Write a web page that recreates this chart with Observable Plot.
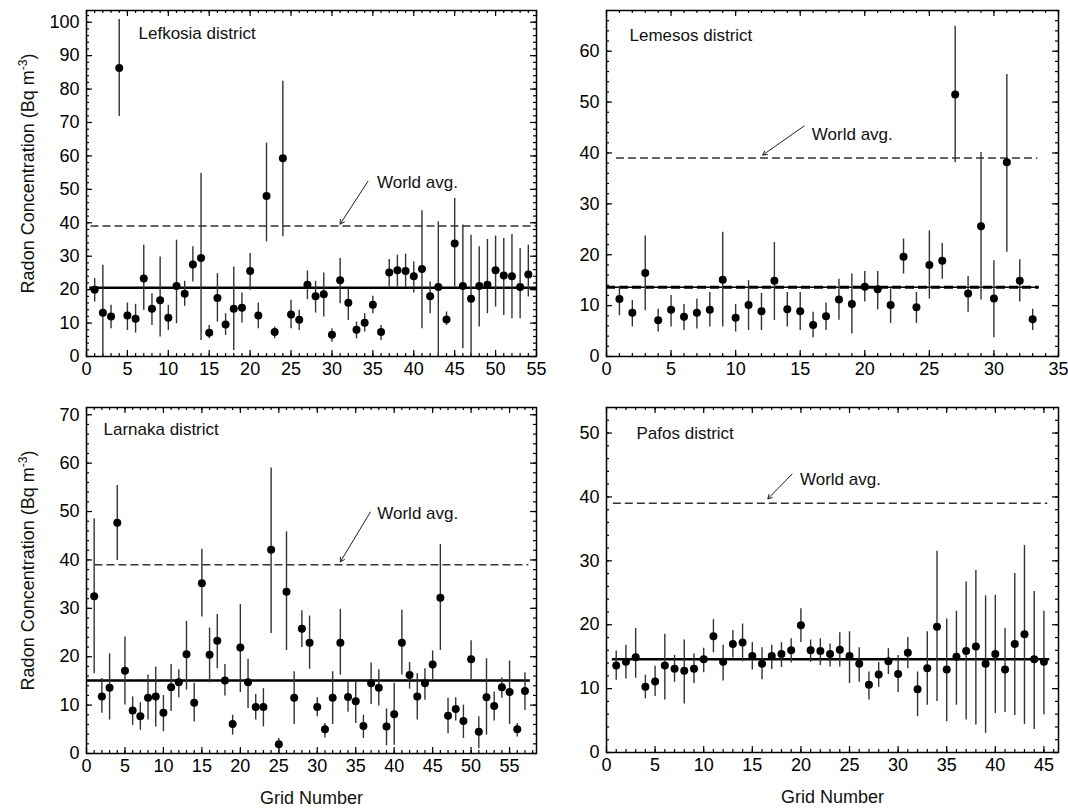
<!DOCTYPE html>
<html><head><meta charset="utf-8">
<script src="https://cdn.jsdelivr.net/npm/d3@7"></script>
<script src="https://cdn.jsdelivr.net/npm/@observablehq/plot@0.6"></script>
<style>
body{margin:0;background:#fff;}
#fig{position:relative;width:1068px;height:809px;font-family:"Liberation Sans",Arial,sans-serif;overflow:hidden;}
#fig svg{position:absolute;overflow:visible;}
</style></head><body><div id="fig"></div>
<script>
// ---------------- data ----------------
const districtNames = ["Lefkosia district", "Lemesos district", "Larnaka district", "Pafos district"];
const worldAverage = 39;
const districtMeans = [20.6, 13.6, 15.1, 14.6];
const xMaxes = [55, 35, 58.5, 46.5];
const yMaxes = [103.5, 68, 71.5, 54];

const lefkosiaMean = [20,13.1,12,86.3,12.3,11.3,23.3,14.3,16.8,11.6,21.1,18.8,27.5,29.5,7.1,17.5,9.6,14.3,14.6,25.6,12.3,48,7.3,59.3,12.6,11,21.5,18,18.6,6.5,22.8,16.1,8,10.1,15.5,7.3,25.1,25.8,25.6,24,26.2,18,20.8,11.1,33.8,21.1,17.3,21.1,21.5,25.8,24.2,24,20.8,24.5];
const lefkosiaLow = [16.3,0,8.3,71.8,7.8,7,13.8,9.3,5.8,7.8,9.8,15,22.3,4.8,5.3,10.3,6.3,1.8,10,19.8,8.3,34.3,5.3,35.8,8.3,7.8,17,13,11.8,4.3,15.8,10.8,5.3,7.3,12.8,4.8,20.8,20.8,20.6,19,8.3,12.8,0,9.3,20.8,2.3,0,8.8,12.8,14.8,12.3,11.3,11.3,17.8];
const lefkosiaHigh = [23.3,27.3,15.3,100.8,16,15.6,33.3,18.8,29.8,15.3,34.8,22.5,32.8,54.8,9.3,24.8,12.8,26.8,19,30.8,16,63.8,8.8,82.3,16.8,13.8,25.6,22.5,25,8.3,29.3,20.3,10.3,12.8,18,9.3,29,30.3,30.6,28.3,43.6,22.3,40.3,13.3,47.3,39.3,36.3,32.8,35,36,35.3,36.5,32.3,33.3];

const lemesosMean = [11.3,8.6,16.4,7.1,9.2,7.8,8.6,9.2,15.1,7.6,10.1,8.9,14.9,9.3,8.9,6.2,7.9,11.2,10.3,13.7,13.2,10.1,19.6,9.7,18,18.8,51.5,12.4,25.6,11.4,38.2,14.9,7.3];
const lemesosLow = [8,5.8,9,4.8,5.8,5.1,5.4,5.8,5.8,4.8,5.1,5.1,7.1,5.8,5.1,3.7,5.1,7.1,4.4,10.7,9.2,6.5,16.2,6.5,11.3,15.2,38.1,8.7,11.1,3.7,20.5,10.7,5.1];
const lemesosHigh = [13.7,11,23.7,9.3,12,10.2,11.3,12.6,24.4,10.2,14.9,12.4,22.4,12.6,12.6,8.7,10.5,15.2,16.2,16.7,16.7,13.3,23.1,12.6,24.7,22.2,64.9,15.7,40.1,18.8,55.4,19,9.3];

const larnakaMean = [32.5,11.8,13.6,47.7,17.1,8.9,7.7,11.5,11.8,8.4,13.7,14.7,20.5,10.5,35.2,20.4,23.3,15.1,6.1,21.9,14.7,9.6,9.6,42.1,1.9,33.4,11.5,25.8,22.9,9.6,5,11.5,22.9,11.7,10.8,5.7,14.5,13.6,5.6,8.1,22.9,16.2,11.8,14.5,18.4,32.2,7.8,9.2,6.7,19.5,4.5,11.6,9.8,13.7,12.7,5,12.9];
const larnakaLow = [16.5,8.3,6.9,39.9,10,5.8,4.8,6.9,5.5,4.5,8.7,11.5,13.1,6.5,28.2,14.6,17.5,11.9,3.8,12.6,9.3,6.9,5.5,24.8,0.3,21.3,6,21.9,17.4,7.6,3.2,6,16.2,8.5,6.2,3.1,10.1,9.8,1.6,1.7,16.2,13.3,6.9,11,15.3,21.3,4.1,6.7,3.1,15.1,1,3.8,6.7,11.4,6,3.4,8.9];
const larnakaHigh = [48.5,15.5,20.6,55.4,24.1,11.7,10.5,16.2,17.9,12,18.4,17.3,27.3,14.5,42.2,25.9,28.7,18.4,7.9,30.8,19.5,12.2,13.4,59,3.1,45.8,16.9,29.5,28.4,11.5,6.2,16.9,29.8,14.9,14.9,7.9,18.7,17.3,9.2,14.5,29.6,18.8,16.5,17.5,21.2,43.2,11.4,11.5,10,23.3,7.6,19.6,12.7,15.6,19.1,6.2,16.7];

const pafosMean = [13.6,14.2,14.9,10.3,11.1,13.6,13.1,12.8,13.1,14.6,18.2,14.2,17,17.2,15.1,13.9,15.1,15.4,16,19.9,16,15.9,15.4,16.1,15.1,13.9,10.6,12.2,14.3,12.3,15.6,9.9,13.2,19.7,13,15,15.9,16.6,13.9,15.4,13,17,18.5,14.6,14.2];
const pafosLow = [11.3,11.5,11.6,8.4,8.75,8.2,11,7.6,10.8,12.5,15.6,11.2,14.8,14.2,12.9,11.4,13,13.3,14,17.2,14.1,13.6,13.4,13.4,10.8,11,8.2,10.2,12.2,9.4,13.1,5.6,7.4,8,4.8,7.4,5.1,4.3,3,6.1,6.25,5.8,4.4,3.6,5.9];
const pafosHigh = [15.9,16.8,19.4,12.1,13.5,18.5,15.2,17.6,15.4,16.3,20.8,16.8,19.1,20.1,17.2,16.4,16.8,17.2,17.8,22.5,17.6,17.8,17,18.75,18.9,16.4,12.6,14.1,16.25,15.2,18,12.6,18.9,31.5,20.9,22.1,26.7,28.5,24.5,24.6,19.4,28,32.4,25.2,22.1];

// reference-line extents (grid units)
const meanLineFrom = [0.4, 0, 0.1, 0.6];
const meanLineTo = [55, 33.5, 57.7, 45.6];
const worldLineFrom = [0.55, 0.77, 1.1, 0.7];
const worldLineTo = [55, 33.4, 57.5, 45.4];

// "World avg." annotation (data units)
const worldTextX = [35.5, 15.9, 37.8, 19.9];
const worldTextY = [52, 43.7, 49.6, 42.7];
const arrowTailX = [34.4, 15.3, 36.9, 19.1];
const arrowTailY = [52.4, 45.3, 49.9, 43.6];
const arrowHeadX = [31, 12.1, 33, 16.6];
const arrowHeadY = [39.6, 39.6, 39.6, 39.7];

const yTitle = "Radon Concentration (Bq m-3)";
const xTitle = "Grid Number";

// ---------------- layout ----------------
const boxes = [
  {left:0,   top:0,   width:546, height:400, ml:86, mr:10, mt:10, mb:44, ldx:52, ldy:23},
  {left:546, top:0,   width:522, height:400, ml:60, mr:10, mt:10, mb:44, ldx:23, ldy:25},
  {left:0,   top:400, width:546, height:409, ml:86, mr:10, mt:7,  mb:56, ldx:17, ldy:22},
  {left:546, top:400, width:522, height:409, ml:60, mr:10, mt:7,  mb:57, ldx:30, ldy:26}
];
const means = [lefkosiaMean, lemesosMean, larnakaMean, pafosMean];
const lows = [lefkosiaLow, lemesosLow, larnakaLow, pafosLow];
const highs = [lefkosiaHigh, lemesosHigh, larnakaHigh, pafosHigh];

const fig = document.getElementById("fig");
const FONT = '"Liberation Sans", Arial, sans-serif';

for (let k = 0; k < 4; k++) {
  const b = boxes[k];
  const iw = b.width - b.ml - b.mr, ih = b.height - b.mt - b.mb;
  const data = means[k].map((m, i) => ({g: i + 1, m, lo: lows[k][i], hi: highs[k][i]}));
  const xMax = xMaxes[k], yMax = yMaxes[k];
  const xMaj = d3.range(0, xMax + 1e-9, 5), xMin = d3.range(0, xMax + 1e-9, 1);
  const yMaj = d3.range(0, yMax + 1e-9, 10), yMin = d3.range(0, yMax + 1e-9, 2);
  const tk = "#000";
  const marks = [
    // inward ticks on all four sides
    Plot.ruleX(xMin, {x: d => d, insetTop: ih - 3, stroke: tk, strokeWidth: 1.2}),
    Plot.ruleX(xMaj, {x: d => d, insetTop: ih - 6, stroke: tk, strokeWidth: 1.2}),
    Plot.ruleX(xMin, {x: d => d, insetBottom: ih - 3, stroke: tk, strokeWidth: 1.2}),
    Plot.ruleX(xMaj, {x: d => d, insetBottom: ih - 6, stroke: tk, strokeWidth: 1.2}),
    Plot.ruleY(yMin, {y: d => d, insetRight: iw - 3, stroke: tk, strokeWidth: 1.2}),
    Plot.ruleY(yMaj, {y: d => d, insetRight: iw - 6, stroke: tk, strokeWidth: 1.2}),
    Plot.ruleY(yMin, {y: d => d, insetLeft: iw - 3, stroke: tk, strokeWidth: 1.2}),
    Plot.ruleY(yMaj, {y: d => d, insetLeft: iw - 6, stroke: tk, strokeWidth: 1.2}),
    Plot.axisX(xMaj, {anchor: "bottom", tickSize: 0, tickPadding: 6, label: null, fontSize: 18}),
    Plot.axisY(yMaj, {anchor: "left", tickSize: 0, tickPadding: 7, label: null, fontSize: 18}),
    // reference lines
    Plot.ruleY([{y: worldAverage, x1: worldLineFrom[k], x2: worldLineTo[k]}],
      {y: "y", x1: "x1", x2: "x2", stroke: "#333", strokeWidth: 1.5, strokeDasharray: "8,4"}),
    Plot.ruleY([{y: districtMeans[k], x1: meanLineFrom[k], x2: meanLineTo[k]}],
      {y: "y", x1: "x1", x2: "x2", stroke: "#000", strokeWidth: k === 1 ? 1.5 : 2.5}),
    // error bars and points
    Plot.ruleX(data, {x: "g", y1: "lo", y2: "hi", stroke: "#333", strokeWidth: 1.4}),
    Plot.dot(data, {x: "g", y: "m", r: 4, fill: "#000", stroke: "none"}),
    // annotation
    Plot.arrow([{x1: arrowTailX[k], y1: arrowTailY[k], x2: arrowHeadX[k], y2: arrowHeadY[k]}],
      {x1: "x1", y1: "y1", x2: "x2", y2: "y2", stroke: "#222", strokeWidth: 1, headLength: 7}),
    Plot.text([{x: worldTextX[k], y: worldTextY[k]}],
      {x: "x", y: "y", text: () => "World avg.", textAnchor: "start", fontSize: 17, fill: "#111"}),
    Plot.text([districtNames[k]], {text: d => d, frameAnchor: "top-left", dx: b.ldx, dy: b.ldy,
      textAnchor: "start", lineAnchor: "middle", fontSize: 17, fill: "#111"}),
    Plot.frame({stroke: "#000", strokeWidth: 1.5})
  ];
  if (k === 1) {
    marks.splice(12, 0, Plot.ruleY([{y: districtMeans[k], x1: meanLineFrom[k], x2: meanLineTo[k]}],
      {y: "y", x1: "x1", x2: "x2", stroke: "#000", strokeWidth: 3, strokeDasharray: "9,4"}));
  }
  if (k % 2 === 0) {
    marks.push(Plot.text([yTitle], {text: d => d, frameAnchor: "left", rotate: -90, dx: -58, dy: -10,
      textAnchor: "middle", lineAnchor: "middle", fontSize: 18, fill: "#111", className: "ytitle"}));
  }
  if (k >= 2) {
    marks.push(Plot.text([xTitle], {text: d => d, frameAnchor: "bottom", dy: 45,
      textAnchor: "middle", lineAnchor: "middle", fontSize: 18, fill: "#111"}));
  }
  const svg = Plot.plot({
    width: b.width, height: b.height,
    marginLeft: b.ml, marginRight: b.mr, marginTop: b.mt, marginBottom: b.mb,
    x: {domain: [0, xMax]},
    y: {domain: [0, yMax]},
    style: {fontFamily: FONT, fontSize: "17px", color: "#000", background: "transparent", overflow: "visible"},
    marks
  });
  svg.style.left = b.left + "px";
  svg.style.top = b.top + "px";
  fig.appendChild(svg);
}
// superscript for the unit in the y titles
document.querySelectorAll("g.ytitle text, .ytitle text").forEach(t => {
  if (t.textContent === yTitle) {
    t.innerHTML = 'Radon Concentration (Bq m<tspan dy="-7" font-size="12">-3</tspan><tspan dy="7">)</tspan>';
  }
});
</script></body></html>
